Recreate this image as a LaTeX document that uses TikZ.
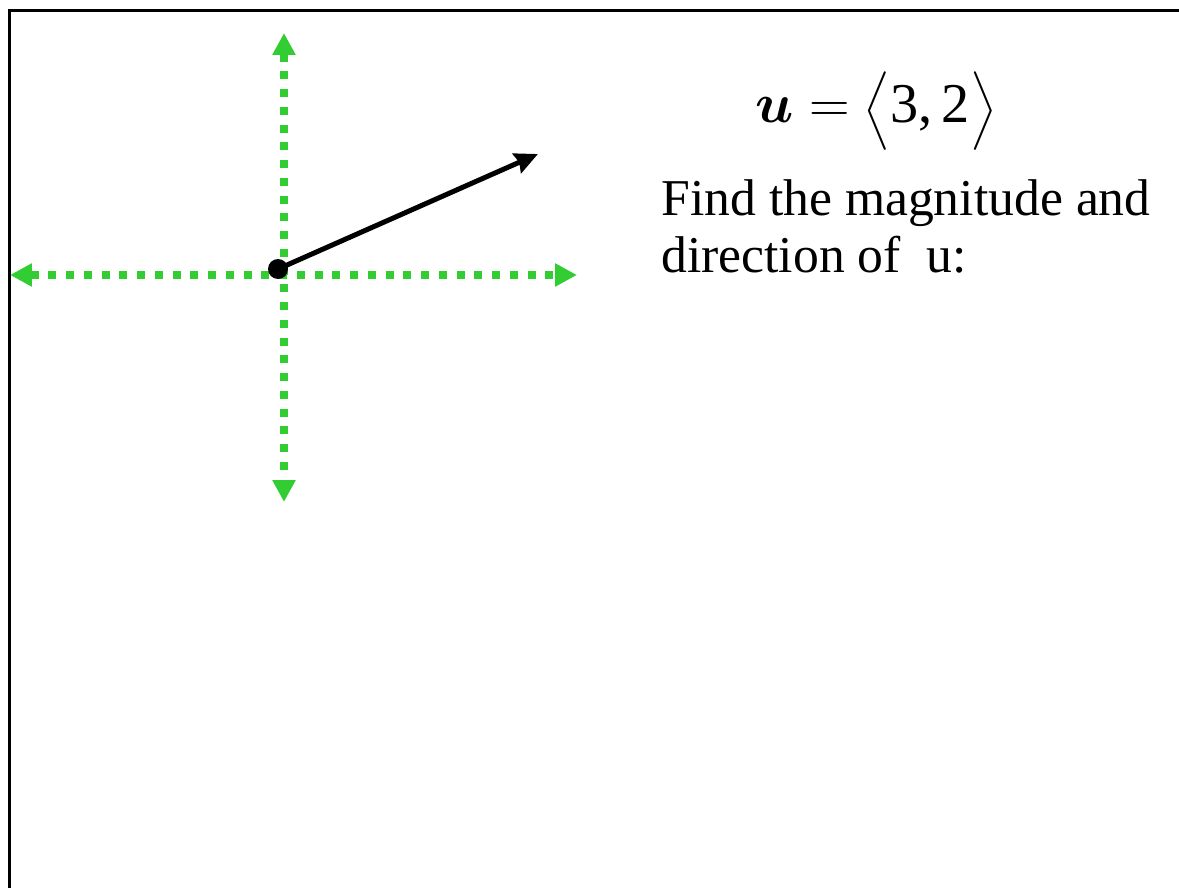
\documentclass[tikz,border=0pt]{standalone}
\usepackage{fix-cm}
\usepackage{amsmath}
\usepackage{bm}
\usepackage{fontspec}
\setmainfont{Liberation Serif}
\usepackage{xcolor}
\usepackage{tikz}
\usetikzlibrary{arrows.meta, positioning}
\definecolor{axisgreen}{RGB}{50,205,50}
\newcommand{\angl}[1]{{\fontsize{27}{30}\selectfont$\Big#1$}}

\begin{document}
\begin{tikzpicture}[x=0.02cm, y=-0.02cm,
    axis/.style={axisgreen, line width=0.16cm, dash pattern=on 0.16cm off 0.195cm, {Triangle[length=0.44cm, width=0.44cm]}-{Triangle[length=0.44cm, width=0.44cm]}},
    vec/.style={line width=0.1cm, -{Stealth[length=0.46cm, width=0.42cm, inset=0.05cm]}},
    txt/.style={font=\fontsize{29.4}{32.5}\selectfont, align=left, inner sep=0pt},
]
\useasboundingbox (0,0) rectangle (1179,888);
\draw[line width=0.06cm] (9.5,900) -- (9.5,11) -- (1190,11);

\coordinate (xl) at (10,275);
\coordinate (xr) at (577,275);
\coordinate (yt) at (284,33);
\coordinate (yb) at (284,502);
\coordinate (o) at (278,269);
\coordinate (tip) at (538,154);

\draw[axis] (xl) -- (xr);
\draw[axis] (yt) -- (yb);
\draw[vec] (o) -- (tip);
\fill (o) circle[radius=0.2cm];

\node[font=\fontsize{32}{40}\selectfont, inner sep=0pt, anchor=base] (eq) at (876,123) {$\bm{u} =$ \angl\langle3,\,2\angl\rangle};
\node[txt, anchor=north west] (task) at (661,179) {Find the magnitude and\\direction of\ \ u:};

\end{tikzpicture}
\end{document}
